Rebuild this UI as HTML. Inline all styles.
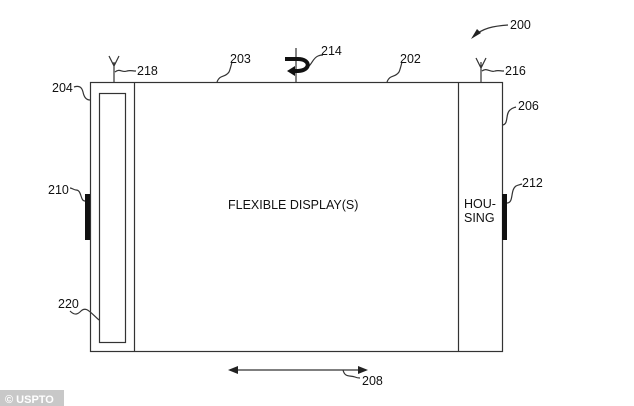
<!DOCTYPE html>
<html><head><meta charset="utf-8"><style>
html,body{margin:0;padding:0;background:#fff;}
svg{display:block;}
text{font-family:"Liberation Sans",Arial,sans-serif;fill:#111;}
</style></head><body>
<svg width="634" height="406" viewBox="0 0 634 406" xmlns="http://www.w3.org/2000/svg">
<g fill="none" stroke="#333" stroke-width="1.2">
<rect x="90.5" y="82.5" width="412" height="269"/>
<line x1="134.5" y1="82" x2="134.5" y2="351"/>
<line x1="458.5" y1="82" x2="458.5" y2="351"/>
<rect x="99.5" y="93.5" width="26" height="249"/>
<path d="M114 82 V62 M109 56 L114 66 L119 56"/>
<path d="M481 82 V62 M476 58 L481 68 L486 58"/>
<path d="M115 72 C120 68 122 73 127 71 C130 70 132 71 136 71"/>
<path d="M482 71 C487 67 490 73 495 71 C498 70 500 71 504 71"/>
<path d="M217 82 C220 74 225 78 229 72 C230 70 231 66 232 62"/>
<path d="M387 82 C390 74 395 78 399 72 C400 70 401 66 402 62"/>
<path d="M74 87 C80 85 82 88 83 92 C84 97 86 100 90 100"/>
<path d="M502 125 C509 125 505 114 510 110 C512 108 513 108 516 107"/>
<path d="M85 201 C80 201 82 190 76 190 C74 190 72 188 70 188"/>
<path d="M507 203 C514 203 510 190 516 186 C518 185 519 185 522 184"/>
<path d="M70 311 C75 316 78 314 81 311 C86 306 90 312 99 320"/>
<path d="M343 370 C345 378 350 375 355 377 C357 378 358 378 360 378"/>
<path d="M473 37 C482 28 494 26 508 25"/>
<path d="M308 67 C312 64 313 58 318 56 C320 55 321 55 323 55"/>
<line x1="230" y1="370" x2="366" y2="370"/>
<line x1="296" y1="48" x2="296" y2="82"/>
</g>
<polygon points="228,370 238,366 238,374" fill="#222"/>
<polygon points="368,370 358,366 358,374" fill="#222"/>
<polygon points="471,39 481,33 477,29" fill="#222"/>
<path d="M285 59 L298 59 C310 59 312 70 298 71 L293 71" fill="none" stroke="#111" stroke-width="4"/>
<polygon points="287,71 295,66 295,76" fill="#111"/>
<rect x="85" y="194" width="5" height="46" fill="#111"/>
<rect x="502" y="194" width="5" height="46" fill="#111"/>
<g font-size="12.5">
<text x="510" y="29">200</text>
<text x="137" y="75">218</text>
<text x="505" y="75">216</text>
<text x="230" y="63">203</text>
<text x="400" y="63">202</text>
<text x="321" y="55">214</text>
<text x="52" y="92">204</text>
<text x="518" y="110">206</text>
<text x="48" y="194">210</text>
<text x="522" y="187">212</text>
<text x="58" y="308">220</text>
<text x="362" y="385">208</text>
</g>
<text x="228" y="209" font-size="12.5">FLEXIBLE DISPLAY(S)</text>
<text x="464" y="208" font-size="12.5">HOU-</text>
<text x="464" y="222" font-size="12.5">SING</text>
<rect x="0" y="390" width="64" height="16" fill="#c8c8c8"/>
<text x="5" y="403" font-size="11" style="fill:#fff" font-weight="bold">© USPTO</text>
</svg>
</body></html>
